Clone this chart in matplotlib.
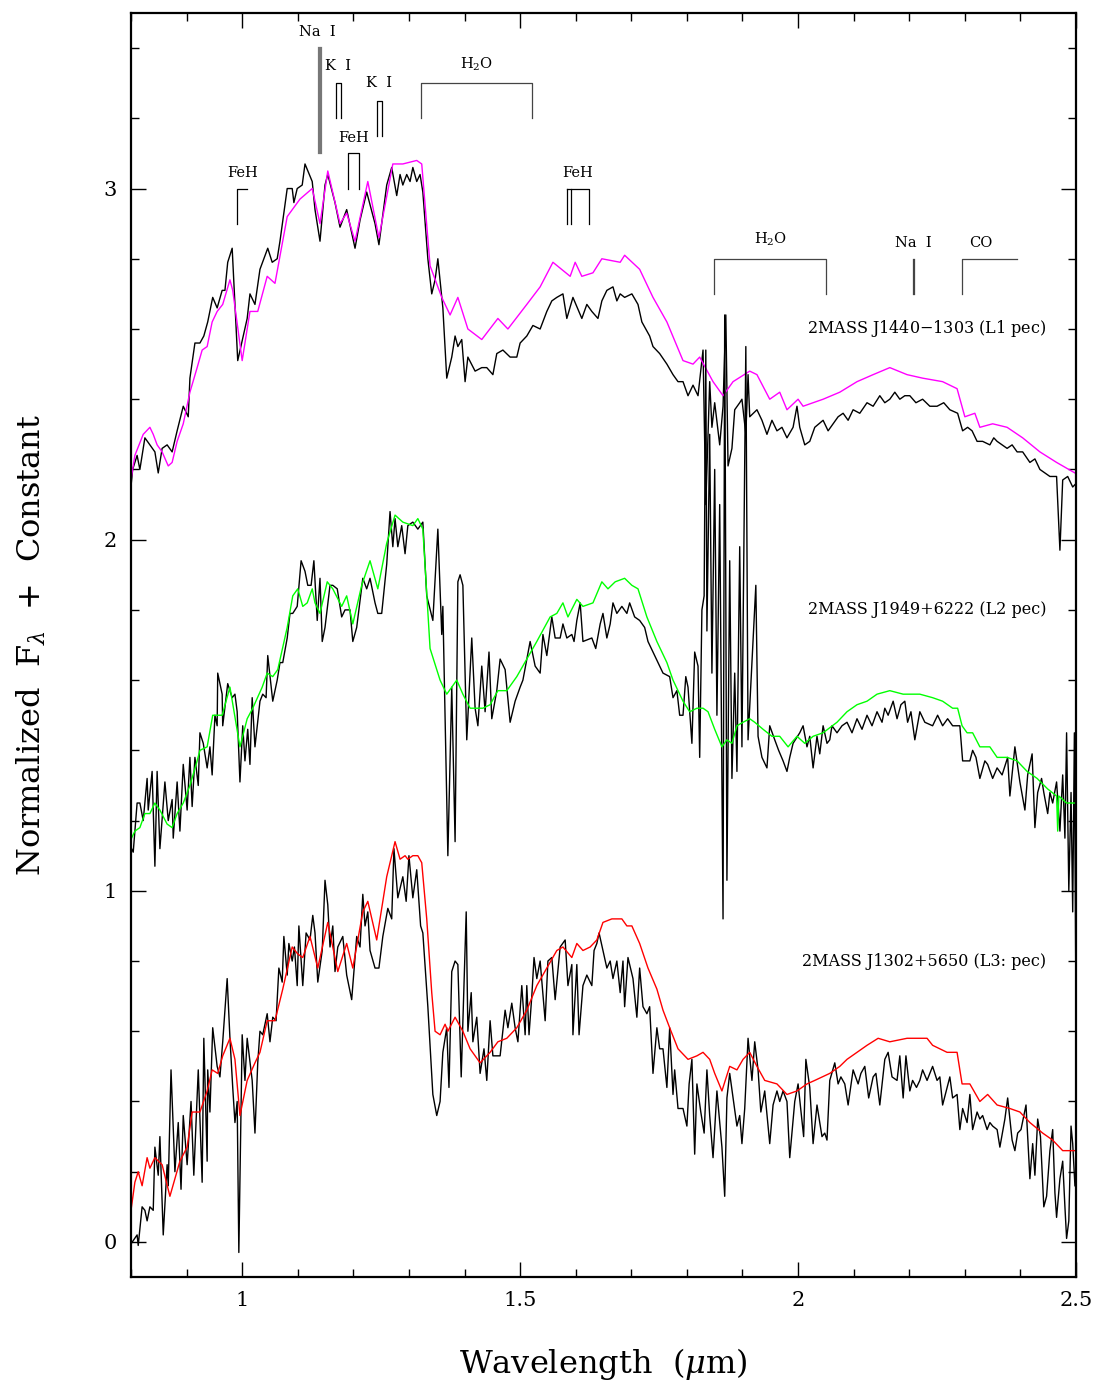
import numpy as np
import matplotlib
matplotlib.use("Agg")
import matplotlib.pyplot as plt
from matplotlib.ticker import MultipleLocator, FormatStrFormatter

plt.rcParams['font.family'] = ['DejaVu Serif']
plt.rcParams['mathtext.fontset'] = 'dejavuserif'

# ---- L1 pec (J1440-1303), offset +2 ----
l1_tmpl_wl = [0.800, 0.807, 0.822, 0.834, 0.840, 0.847, 0.856, 0.867, 0.874, 0.883, 0.894, 0.906, 0.919,
              0.928, 0.937, 0.946, 0.955, 0.965, 0.978, 0.983, 1.000, 1.014, 1.028, 1.045, 1.059, 1.081,
              1.104, 1.126, 1.140, 1.154, 1.176, 1.188, 1.203, 1.226, 1.246, 1.271, 1.289, 1.314, 1.323,
              1.338, 1.359, 1.374, 1.388, 1.406, 1.431, 1.460, 1.478, 1.512, 1.536, 1.559, 1.590, 1.599,
              1.611, 1.631, 1.647, 1.680, 1.688, 1.715, 1.739, 1.764, 1.793, 1.811, 1.823, 1.847, 1.865,
              1.883, 1.913, 1.926, 1.949, 1.967, 1.980, 2.000, 2.009, 2.045, 2.075, 2.106, 2.135, 2.165,
              2.196, 2.224, 2.260, 2.286, 2.300, 2.318, 2.327, 2.350, 2.376, 2.404, 2.435, 2.465, 2.498]
l1_tmpl_fx = [2.17, 2.24, 2.30, 2.32, 2.30, 2.27, 2.25, 2.21, 2.22, 2.28, 2.33, 2.42, 2.49,
              2.54, 2.55, 2.62, 2.65, 2.67, 2.74, 2.71, 2.51, 2.65, 2.65, 2.75, 2.73, 2.92,
              2.97, 3.00, 2.90, 3.05, 2.90, 2.93, 2.85, 3.02, 2.86, 3.07, 3.07, 3.08, 3.07,
              2.78, 2.69, 2.64, 2.69, 2.60, 2.57, 2.63, 2.60, 2.67, 2.72, 2.79, 2.75, 2.79,
              2.75, 2.76, 2.80, 2.79, 2.81, 2.77, 2.69, 2.62, 2.51, 2.50, 2.52, 2.45, 2.41,
              2.45, 2.48, 2.47, 2.40, 2.42, 2.37, 2.40, 2.38, 2.40, 2.42, 2.45, 2.47, 2.49,
              2.47, 2.46, 2.45, 2.43, 2.35, 2.36, 2.32, 2.33, 2.32, 2.29, 2.25, 2.22, 2.19]

l1_obs_wl = [0.798, 0.803, 0.811, 0.816, 0.825, 0.834, 0.843, 0.849, 0.856, 0.865, 0.874, 0.883, 0.894,
             0.903, 0.906, 0.915, 0.924, 0.931, 0.938, 0.947, 0.955, 0.964, 0.969, 0.974, 0.982, 0.992,
             1.009, 1.014, 1.023, 1.032, 1.046, 1.054, 1.063, 1.068, 1.081, 1.090, 1.093, 1.099, 1.108,
             1.113, 1.126, 1.131, 1.140, 1.149, 1.154, 1.167, 1.176, 1.188, 1.203, 1.212, 1.224, 1.239,
             1.246, 1.260, 1.269, 1.278, 1.284, 1.289, 1.296, 1.302, 1.307, 1.314, 1.320, 1.325, 1.334,
             1.341, 1.347, 1.352, 1.361, 1.368, 1.377, 1.383, 1.388, 1.395, 1.401, 1.406, 1.419, 1.431,
             1.440, 1.451, 1.458, 1.469, 1.482, 1.494, 1.500, 1.512, 1.523, 1.536, 1.548, 1.557, 1.566,
             1.577, 1.584, 1.595, 1.611, 1.620, 1.629, 1.640, 1.647, 1.656, 1.667, 1.674, 1.680, 1.688,
             1.701, 1.712, 1.719, 1.733, 1.739, 1.751, 1.764, 1.775, 1.784, 1.793, 1.802, 1.811, 1.820,
             1.829, 1.834, 1.841, 1.845, 1.850, 1.859, 1.865, 1.870, 1.874, 1.881, 1.886, 1.895, 1.899,
             1.906, 1.910, 1.913, 1.926, 1.935, 1.944, 1.953, 1.962, 1.971, 1.980, 1.991, 1.998, 2.003,
             2.012, 2.021, 2.030, 2.045, 2.054, 2.063, 2.072, 2.081, 2.090, 2.099, 2.111, 2.124, 2.135,
             2.147, 2.156, 2.165, 2.174, 2.183, 2.192, 2.201, 2.212, 2.224, 2.237, 2.250, 2.262, 2.273,
             2.287, 2.296, 2.305, 2.313, 2.322, 2.332, 2.345, 2.352, 2.358, 2.367, 2.376, 2.385, 2.394,
             2.404, 2.417, 2.426, 2.435, 2.444, 2.453, 2.465, 2.471, 2.476, 2.485, 2.494, 2.500]
l1_obs_fx = [2.12, 2.20, 2.24, 2.20, 2.29, 2.27, 2.25, 2.19, 2.26, 2.27, 2.25, 2.31, 2.38,
             2.35, 2.46, 2.56, 2.56, 2.58, 2.62, 2.69, 2.66, 2.71, 2.71, 2.79, 2.83, 2.51,
             2.63, 2.70, 2.67, 2.77, 2.83, 2.79, 2.80, 2.85, 3.00, 3.00, 2.96, 3.00, 3.01,
             3.07, 3.02, 2.94, 2.85, 3.01, 3.04, 2.96, 2.89, 2.94, 2.83, 2.91, 2.99, 2.90,
             2.84, 3.01, 3.06, 2.98, 3.04, 3.01, 3.04, 3.02, 3.06, 3.02, 3.04, 2.99, 2.80,
             2.70, 2.74, 2.80, 2.66, 2.46, 2.52, 2.58, 2.55, 2.57, 2.45, 2.52, 2.48, 2.49,
             2.49, 2.47, 2.53, 2.54, 2.52, 2.52, 2.56, 2.58, 2.61, 2.60, 2.65, 2.68, 2.69,
             2.70, 2.63, 2.69, 2.63, 2.67, 2.65, 2.63, 2.68, 2.71, 2.72, 2.68, 2.70, 2.69,
             2.70, 2.67, 2.62, 2.58, 2.55, 2.53, 2.50, 2.47, 2.45, 2.45, 2.41, 2.44, 2.41,
             2.54, 2.10, 2.45, 2.32, 2.39, 2.27, 2.38, 2.64, 2.21, 2.26, 2.37, 2.39, 2.40,
             2.30, 2.47, 2.35, 2.37, 2.34, 2.30, 2.34, 2.31, 2.32, 2.29, 2.32, 2.38, 2.32,
             2.27, 2.28, 2.32, 2.34, 2.31, 2.33, 2.35, 2.36, 2.34, 2.37, 2.36, 2.39, 2.38,
             2.41, 2.39, 2.40, 2.42, 2.40, 2.41, 2.41, 2.39, 2.40, 2.38, 2.38, 2.39, 2.37,
             2.36, 2.31, 2.32, 2.31, 2.28, 2.28, 2.27, 2.29, 2.28, 2.27, 2.26, 2.27, 2.25,
             2.25, 2.22, 2.23, 2.20, 2.19, 2.18, 2.18, 1.97, 2.17, 2.18, 2.15, 2.16]

# ---- L2 pec (J1949+6222), offset +1 ----
l2_tmpl_wl = [0.798, 0.807, 0.816, 0.825, 0.834, 0.843, 0.852, 0.865, 0.874, 0.883, 0.894, 0.906, 0.919,
              0.924, 0.937, 0.947, 0.964, 0.978, 0.996, 1.009, 1.019, 1.036, 1.045, 1.055, 1.064, 1.081,
              1.091, 1.100, 1.109, 1.117, 1.126, 1.131, 1.140, 1.153, 1.163, 1.179, 1.188, 1.199, 1.215,
              1.230, 1.244, 1.260, 1.275, 1.289, 1.307, 1.316, 1.325, 1.338, 1.356, 1.368, 1.386, 1.397,
              1.410, 1.433, 1.446, 1.460, 1.476, 1.494, 1.512, 1.530, 1.554, 1.566, 1.577, 1.586, 1.602,
              1.613, 1.631, 1.647, 1.658, 1.671, 1.688, 1.701, 1.712, 1.728, 1.746, 1.764, 1.775, 1.793,
              1.805, 1.818, 1.829, 1.838, 1.850, 1.863, 1.872, 1.881, 1.890, 1.901, 1.913, 1.922, 1.937,
              1.953, 1.967, 1.982, 1.998, 2.012, 2.027, 2.045, 2.070, 2.088, 2.106, 2.124, 2.142, 2.165,
              2.189, 2.219, 2.242, 2.260, 2.278, 2.287, 2.295, 2.304, 2.314, 2.327, 2.345, 2.358, 2.376,
              2.394, 2.412, 2.430, 2.449, 2.465, 2.467, 2.469, 2.483, 2.498]
l2_tmpl_fx = [1.14, 1.17, 1.18, 1.22, 1.22, 1.25, 1.23, 1.19, 1.18, 1.22, 1.25, 1.30, 1.37,
              1.40, 1.41, 1.50, 1.50, 1.58, 1.41, 1.49, 1.52, 1.58, 1.62, 1.61, 1.63, 1.75,
              1.84, 1.86, 1.81, 1.82, 1.86, 1.82, 1.79, 1.88, 1.86, 1.81, 1.84, 1.76, 1.87,
              1.94, 1.86, 1.99, 2.07, 2.05, 2.04, 2.06, 2.03, 1.69, 1.60, 1.56, 1.60, 1.56,
              1.52, 1.52, 1.53, 1.57, 1.57, 1.61, 1.66, 1.71, 1.78, 1.79, 1.82, 1.78, 1.83,
              1.81, 1.82, 1.88, 1.86, 1.88, 1.89, 1.87, 1.86, 1.78, 1.71, 1.65, 1.60, 1.54,
              1.51, 1.52, 1.52, 1.51, 1.46, 1.41, 1.43, 1.42, 1.47, 1.48, 1.49, 1.48, 1.46,
              1.44, 1.44, 1.41, 1.44, 1.42, 1.44, 1.45, 1.48, 1.51, 1.53, 1.54, 1.56, 1.57,
              1.56, 1.56, 1.55, 1.54, 1.52, 1.52, 1.47, 1.45, 1.45, 1.41, 1.41, 1.38, 1.38,
              1.37, 1.34, 1.32, 1.29, 1.27, 1.17, 1.27, 1.25, 1.25]

l2_obs_wl = [0.798, 0.804, 0.811, 0.816, 0.822, 0.829, 0.831, 0.838, 0.843, 0.847, 0.852, 0.861, 0.867,
             0.874, 0.876, 0.883, 0.888, 0.894, 0.901, 0.906, 0.910, 0.915, 0.921, 0.924, 0.930, 0.937,
             0.942, 0.946, 0.951, 0.955, 0.956, 0.964, 0.965, 0.974, 0.982, 0.987, 0.991, 0.996, 1.001,
             1.005, 1.010, 1.014, 1.018, 1.023, 1.032, 1.037, 1.043, 1.046, 1.055, 1.063, 1.068, 1.073,
             1.081, 1.086, 1.091, 1.099, 1.106, 1.113, 1.118, 1.124, 1.129, 1.135, 1.140, 1.144, 1.149,
             1.158, 1.163, 1.171, 1.179, 1.185, 1.194, 1.199, 1.206, 1.217, 1.224, 1.230, 1.239, 1.244,
             1.251, 1.260, 1.266, 1.271, 1.275, 1.280, 1.287, 1.293, 1.298, 1.307, 1.316, 1.325, 1.332,
             1.343, 1.352, 1.359, 1.361, 1.370, 1.377, 1.383, 1.388, 1.392, 1.397, 1.404, 1.413, 1.419,
             1.424, 1.431, 1.437, 1.444, 1.449, 1.458, 1.464, 1.473, 1.482, 1.491, 1.500, 1.505, 1.512,
             1.518, 1.527, 1.536, 1.541, 1.548, 1.557, 1.563, 1.572, 1.577, 1.584, 1.593, 1.597, 1.602,
             1.608, 1.613, 1.629, 1.636, 1.644, 1.649, 1.656, 1.662, 1.667, 1.674, 1.683, 1.692, 1.697,
             1.706, 1.715, 1.724, 1.730, 1.739, 1.748, 1.757, 1.769, 1.775, 1.782, 1.787, 1.793, 1.798,
             1.802, 1.809, 1.814, 1.820, 1.823, 1.827, 1.831, 1.834, 1.836, 1.841, 1.845, 1.850, 1.854,
             1.859, 1.865, 1.868, 1.872, 1.877, 1.881, 1.886, 1.890, 1.895, 1.899, 1.906, 1.910, 1.917,
             1.924, 1.928, 1.935, 1.944, 1.949, 1.958, 1.965, 1.973, 1.980, 1.985, 1.991, 2.003, 2.009,
             2.016, 2.021, 2.027, 2.034, 2.039, 2.045, 2.052, 2.057, 2.061, 2.070, 2.079, 2.088, 2.097,
             2.106, 2.115, 2.124, 2.133, 2.142, 2.151, 2.156, 2.162, 2.171, 2.178, 2.185, 2.192, 2.197,
             2.203, 2.210, 2.219, 2.228, 2.242, 2.251, 2.260, 2.269, 2.278, 2.291, 2.296, 2.309, 2.314,
             2.320, 2.327, 2.336, 2.341, 2.350, 2.358, 2.367, 2.377, 2.381, 2.390, 2.399, 2.408, 2.413,
             2.421, 2.426, 2.431, 2.438, 2.442, 2.449, 2.453, 2.458, 2.465, 2.471, 2.476, 2.480, 2.483,
             2.487, 2.491, 2.494, 2.497, 2.500]
l2_obs_fx = [1.13, 1.11, 1.25, 1.25, 1.20, 1.32, 1.23, 1.34, 1.07, 1.34, 1.12, 1.31, 1.20,
             1.26, 1.15, 1.31, 1.17, 1.36, 1.23, 1.38, 1.24, 1.38, 1.30, 1.45, 1.42, 1.35,
             1.41, 1.33, 1.50, 1.47, 1.62, 1.56, 1.47, 1.59, 1.55, 1.56, 1.51, 1.31, 1.47,
             1.37, 1.46, 1.36, 1.55, 1.41, 1.54, 1.56, 1.55, 1.67, 1.54, 1.60, 1.65, 1.65,
             1.72, 1.79, 1.79, 1.81, 1.94, 1.91, 1.87, 1.87, 1.94, 1.77, 1.89, 1.71, 1.75,
             1.87, 1.87, 1.86, 1.78, 1.80, 1.80, 1.71, 1.75, 1.89, 1.86, 1.89, 1.82, 1.79,
             1.79, 1.93, 2.08, 1.98, 2.06, 1.98, 2.04, 1.96, 2.04, 2.05, 2.03, 2.05, 1.84,
             1.77, 2.03, 1.73, 1.81, 1.10, 1.58, 1.14, 1.88, 1.90, 1.87, 1.43, 1.72, 1.52,
             1.47, 1.64, 1.51, 1.68, 1.49, 1.57, 1.66, 1.63, 1.48, 1.54, 1.58, 1.60, 1.66,
             1.71, 1.64, 1.62, 1.73, 1.67, 1.78, 1.72, 1.72, 1.76, 1.72, 1.73, 1.71, 1.77,
             1.82, 1.71, 1.72, 1.69, 1.76, 1.79, 1.72, 1.76, 1.82, 1.79, 1.81, 1.79, 1.82,
             1.78, 1.77, 1.75, 1.71, 1.68, 1.65, 1.62, 1.61, 1.55, 1.57, 1.50, 1.50, 1.61,
             1.58, 1.42, 1.68, 1.64, 1.38, 1.80, 1.84, 2.54, 1.74, 2.30, 1.62, 2.20, 1.50,
             2.10, 0.92, 2.64, 1.03, 1.94, 1.32, 1.62, 1.34, 1.98, 1.41, 2.55, 1.43, 1.65,
             1.87, 1.44, 1.38, 1.35, 1.47, 1.43, 1.40, 1.37, 1.34, 1.38, 1.42, 1.45, 1.47,
             1.41, 1.44, 1.35, 1.44, 1.39, 1.47, 1.42, 1.43, 1.47, 1.45, 1.47, 1.48, 1.45,
             1.49, 1.46, 1.50, 1.47, 1.51, 1.48, 1.52, 1.50, 1.54, 1.49, 1.53, 1.54, 1.48,
             1.51, 1.43, 1.51, 1.48, 1.47, 1.50, 1.47, 1.49, 1.47, 1.47, 1.37, 1.37, 1.40,
             1.38, 1.32, 1.37, 1.36, 1.32, 1.35, 1.33, 1.38, 1.27, 1.41, 1.31, 1.23, 1.33,
             1.39, 1.18, 1.28, 1.32, 1.28, 1.22, 1.28, 1.25, 1.31, 1.17, 1.33, 1.15, 1.45,
             1.00, 1.28, 0.94, 1.45, 0.63]

# ---- L3: pec (J1302+5650), offset 0 ----
l3_tmpl_wl = [0.800, 0.807, 0.813, 0.820, 0.829, 0.834, 0.843, 0.856, 0.870, 0.879, 0.888, 0.901, 0.910,
              0.924, 0.937, 0.946, 0.956, 0.965, 0.978, 0.987, 0.996, 1.009, 1.023, 1.032, 1.045, 1.059,
              1.073, 1.090, 1.100, 1.109, 1.122, 1.136, 1.154, 1.172, 1.188, 1.199, 1.217, 1.226, 1.242,
              1.260, 1.275, 1.284, 1.293, 1.298, 1.307, 1.316, 1.323, 1.332, 1.341, 1.347, 1.356, 1.365,
              1.370, 1.383, 1.397, 1.410, 1.428, 1.446, 1.460, 1.476, 1.494, 1.512, 1.530, 1.548, 1.566,
              1.577, 1.593, 1.602, 1.613, 1.626, 1.638, 1.649, 1.665, 1.683, 1.692, 1.701, 1.715, 1.730,
              1.746, 1.757, 1.769, 1.784, 1.802, 1.818, 1.829, 1.841, 1.850, 1.863, 1.877, 1.890, 1.901,
              1.913, 1.926, 1.940, 1.962, 1.980, 1.998, 2.016, 2.030, 2.057, 2.075, 2.088, 2.106, 2.124,
              2.144, 2.165, 2.196, 2.232, 2.242, 2.268, 2.286, 2.295, 2.309, 2.327, 2.341, 2.358, 2.381,
              2.399, 2.417, 2.440, 2.458, 2.476, 2.498]
l3_tmpl_fx = [0.09, 0.17, 0.20, 0.16, 0.24, 0.21, 0.24, 0.22, 0.13, 0.18, 0.23, 0.27, 0.37,
              0.37, 0.43, 0.49, 0.48, 0.53, 0.58, 0.52, 0.36, 0.46, 0.51, 0.54, 0.63, 0.63,
              0.72, 0.84, 0.82, 0.81, 0.87, 0.78, 0.91, 0.77, 0.85, 0.78, 0.94, 0.97, 0.86,
              1.04, 1.14, 1.09, 1.10, 1.09, 1.10, 1.10, 1.08, 0.92, 0.71, 0.60, 0.59, 0.62,
              0.60, 0.64, 0.60, 0.55, 0.51, 0.54, 0.57, 0.58, 0.61, 0.66, 0.73, 0.78, 0.83,
              0.84, 0.81, 0.85, 0.83, 0.84, 0.86, 0.91, 0.92, 0.92, 0.90, 0.90, 0.85, 0.78,
              0.72, 0.66, 0.61, 0.55, 0.52, 0.53, 0.54, 0.52, 0.48, 0.43, 0.50, 0.49, 0.52,
              0.54, 0.50, 0.46, 0.45, 0.42, 0.43, 0.45, 0.46, 0.48, 0.50, 0.52, 0.54, 0.56,
              0.58, 0.57, 0.58, 0.58, 0.56, 0.54, 0.54, 0.45, 0.45, 0.40, 0.42, 0.39, 0.38,
              0.37, 0.34, 0.31, 0.29, 0.26, 0.26]

l3_obs_wl = [0.798, 0.811, 0.813, 0.820, 0.825, 0.829, 0.834, 0.840, 0.843, 0.849, 0.852, 0.858, 0.865,
             0.867, 0.872, 0.879, 0.885, 0.890, 0.894, 0.901, 0.908, 0.913, 0.921, 0.928, 0.931, 0.937,
             0.938, 0.942, 0.947, 0.955, 0.960, 0.965, 0.973, 0.978, 0.983, 0.987, 0.991, 0.994, 1.000,
             1.005, 1.009, 1.018, 1.023, 1.028, 1.032, 1.037, 1.045, 1.050, 1.055, 1.061, 1.066, 1.072,
             1.075, 1.081, 1.084, 1.090, 1.094, 1.099, 1.102, 1.109, 1.115, 1.122, 1.127, 1.131, 1.136,
             1.144, 1.149, 1.154, 1.158, 1.163, 1.167, 1.172, 1.181, 1.188, 1.197, 1.206, 1.212, 1.217,
             1.221, 1.226, 1.230, 1.239, 1.246, 1.253, 1.262, 1.269, 1.273, 1.280, 1.289, 1.295, 1.300,
             1.307, 1.314, 1.321, 1.325, 1.334, 1.343, 1.350, 1.356, 1.361, 1.368, 1.372, 1.377, 1.383,
             1.388, 1.394, 1.403, 1.406, 1.412, 1.415, 1.422, 1.428, 1.435, 1.440, 1.446, 1.451, 1.464,
             1.473, 1.478, 1.485, 1.491, 1.496, 1.503, 1.509, 1.512, 1.516, 1.521, 1.525, 1.530, 1.536,
             1.545, 1.550, 1.557, 1.563, 1.572, 1.581, 1.586, 1.593, 1.595, 1.602, 1.606, 1.613, 1.620,
             1.629, 1.633, 1.638, 1.642, 1.649, 1.656, 1.662, 1.667, 1.674, 1.680, 1.685, 1.688, 1.694,
             1.703, 1.710, 1.715, 1.721, 1.728, 1.733, 1.739, 1.746, 1.751, 1.757, 1.764, 1.769, 1.775,
             1.778, 1.784, 1.793, 1.800, 1.804, 1.809, 1.814, 1.818, 1.825, 1.831, 1.836, 1.841, 1.847,
             1.854, 1.863, 1.868, 1.872, 1.877, 1.883, 1.890, 1.895, 1.899, 1.904, 1.910, 1.917, 1.922,
             1.928, 1.933, 1.940, 1.949, 1.955, 1.962, 1.967, 1.973, 1.980, 1.985, 1.994, 2.000, 2.010,
             2.014, 2.021, 2.027, 2.034, 2.043, 2.048, 2.052, 2.057, 2.066, 2.072, 2.077, 2.084, 2.090,
             2.099, 2.108, 2.113, 2.120, 2.127, 2.135, 2.140, 2.147, 2.156, 2.162, 2.169, 2.178, 2.183,
             2.189, 2.194, 2.201, 2.206, 2.213, 2.219, 2.224, 2.232, 2.237, 2.242, 2.250, 2.255, 2.260,
             2.268, 2.273, 2.278, 2.286, 2.291, 2.296, 2.304, 2.309, 2.314, 2.322, 2.327, 2.332, 2.340,
             2.345, 2.350, 2.358, 2.363, 2.372, 2.377, 2.385, 2.390, 2.395, 2.401, 2.410, 2.413, 2.417,
             2.422, 2.426, 2.431, 2.436, 2.442, 2.447, 2.453, 2.458, 2.462, 2.465, 2.471, 2.476, 2.480,
             2.483, 2.487, 2.491, 2.494, 2.498]
l3_obs_fx = [-0.01, 0.02, -0.01, 0.10, 0.09, 0.06, 0.10, 0.09, 0.27, 0.19, 0.30, 0.02, 0.22,
             0.16, 0.49, 0.20, 0.34, 0.15, 0.36, 0.22, 0.40, 0.19, 0.49, 0.17, 0.58, 0.23,
             0.49, 0.37, 0.61, 0.50, 0.47, 0.57, 0.75, 0.58, 0.44, 0.34, 0.40, -0.03, 0.59,
             0.46, 0.58, 0.46, 0.31, 0.51, 0.60, 0.59, 0.65, 0.57, 0.64, 0.63, 0.78, 0.74,
             0.87, 0.76, 0.85, 0.80, 0.84, 0.73, 0.90, 0.73, 0.88, 0.86, 0.93, 0.88, 0.74,
             0.83, 1.03, 0.96, 0.84, 0.90, 0.77, 0.84, 0.87, 0.76, 0.69, 0.87, 0.84, 0.99,
             0.90, 0.94, 0.83, 0.78, 0.78, 0.87, 0.95, 0.92, 1.12, 0.98, 1.04, 0.97, 1.10,
             0.98, 1.06, 0.90, 0.88, 0.67, 0.42, 0.36, 0.40, 0.54, 0.61, 0.44, 0.77, 0.80,
             0.79, 0.47, 0.94, 0.60, 0.71, 0.57, 0.64, 0.48, 0.55, 0.46, 0.63, 0.53, 0.53,
             0.66, 0.61, 0.68, 0.61, 0.57, 0.73, 0.59, 0.73, 0.59, 0.70, 0.81, 0.75, 0.80,
             0.63, 0.80, 0.81, 0.69, 0.84, 0.86, 0.73, 0.79, 0.59, 0.79, 0.59, 0.73, 0.76,
             0.73, 0.83, 0.85, 0.88, 0.83, 0.78, 0.80, 0.75, 0.80, 0.71, 0.80, 0.67, 0.81,
             0.75, 0.64, 0.78, 0.67, 0.65, 0.67, 0.48, 0.61, 0.55, 0.55, 0.44, 0.61, 0.42,
             0.49, 0.38, 0.38, 0.33, 0.45, 0.52, 0.25, 0.45, 0.37, 0.31, 0.49, 0.36, 0.24,
             0.43, 0.27, 0.13, 0.41, 0.48, 0.41, 0.33, 0.36, 0.28, 0.38, 0.58, 0.46, 0.57,
             0.49, 0.37, 0.43, 0.28, 0.39, 0.43, 0.40, 0.43, 0.40, 0.24, 0.40, 0.45, 0.30,
             0.52, 0.44, 0.28, 0.39, 0.30, 0.31, 0.29, 0.46, 0.51, 0.45, 0.47, 0.45, 0.39,
             0.49, 0.45, 0.48, 0.50, 0.41, 0.47, 0.48, 0.39, 0.52, 0.54, 0.47, 0.46, 0.53,
             0.41, 0.53, 0.43, 0.46, 0.44, 0.46, 0.49, 0.46, 0.48, 0.50, 0.46, 0.47, 0.39,
             0.44, 0.47, 0.41, 0.42, 0.32, 0.38, 0.34, 0.42, 0.32, 0.37, 0.35, 0.36, 0.32,
             0.34, 0.33, 0.32, 0.27, 0.35, 0.41, 0.29, 0.26, 0.31, 0.32, 0.39, 0.30, 0.18,
             0.28, 0.19, 0.35, 0.30, 0.10, 0.13, 0.26, 0.32, 0.14, 0.07, 0.18, 0.23, 0.10,
             0.01, 0.06, 0.33, 0.28, 0.16]

names = ["2MASS J1440$-$1303 (L1 pec)", "2MASS J1949+6222 (L2 pec)", "2MASS J1302+5650 (L3: pec)"]
name_y = [2.60, 1.80, 0.80]

# feature wavelengths
feh1_wl = [0.991, 1.008]
nai1_wl = [1.138, 1.141]
ki1_wl = [1.169, 1.177]
feh2_wl = [1.190, 1.210]
ki2_wl = [1.243, 1.252]
h2o1_wl = [1.322, 1.521]
feh3_wl = [1.584, 1.591, 1.624]
h2o2_wl = [1.849, 2.050]
nai2_wl = [2.206, 2.209]
co_wl = [2.295, 2.393]

fig = plt.figure(figsize=(10.98, 13.8), dpi=100)
ax = fig.add_axes([0.1193, 0.0746, 0.8607, 0.916])

ax.plot(l1_obs_wl, l1_obs_fx, color='black', lw=1.0)
ax.plot(l1_tmpl_wl, l1_tmpl_fx, color='#ff00ff', lw=1.0)
ax.plot(l2_obs_wl, l2_obs_fx, color='black', lw=1.0)
ax.plot(l2_tmpl_wl, l2_tmpl_fx, color='#00ff00', lw=1.0)
ax.plot(l3_obs_wl, l3_obs_fx, color='black', lw=1.0)
ax.plot(l3_tmpl_wl, l3_tmpl_fx, color='#ff0000', lw=1.0)

for nm, yy in zip(names, name_y):
    ax.text(2.447, yy, nm, ha='right', va='center', fontsize=11.5)

lc = '#444444'
fs = 10.5
# FeH 0.99
ax.plot([feh1_wl[0], feh1_wl[0], feh1_wl[1]], [2.90, 3.00, 3.00], color='k', lw=0.9)
ax.text(1.0, 3.045, 'FeH', ha='center', va='center', fontsize=fs)
# Na I 1.14 (thick)
for w in nai1_wl:
    ax.plot([w, w], [3.10, 3.40], color='#777777', lw=1.6)
ax.text(1.136, 3.445, 'Na  I', ha='center', va='center', fontsize=fs)
# K I 1.17
ax.plot([ki1_wl[0], ki1_wl[0], ki1_wl[1], ki1_wl[1]], [3.20, 3.30, 3.30, 3.20], color='k', lw=0.9)
ax.text(1.172, 3.35, 'K  I', ha='center', va='center', fontsize=fs)
# FeH 1.20
ax.plot([feh2_wl[0], feh2_wl[0], feh2_wl[1], feh2_wl[1]], [3.00, 3.10, 3.10, 3.00], color='k', lw=0.9)
ax.text(1.200, 3.145, 'FeH', ha='center', va='center', fontsize=fs)
# K I 1.25
ax.plot([ki2_wl[0], ki2_wl[0], ki2_wl[1], ki2_wl[1]], [3.15, 3.25, 3.25, 3.15], color='k', lw=0.9)
ax.text(1.247, 3.30, 'K  I', ha='center', va='center', fontsize=fs)
# H2O 1.4
ax.plot([h2o1_wl[0], h2o1_wl[0], h2o1_wl[1], h2o1_wl[1]], [3.20, 3.30, 3.30, 3.20], color=lc, lw=0.9)
ax.text(1.421, 3.355, 'H$_2$O', ha='center', va='center', fontsize=fs)
# FeH 1.6
ax.plot([feh3_wl[0], feh3_wl[0]], [2.90, 3.00], color='k', lw=0.9)
ax.plot([feh3_wl[1], feh3_wl[1], feh3_wl[2], feh3_wl[2]], [2.90, 3.00, 3.00, 2.90], color='k', lw=0.9)
ax.plot([feh3_wl[0], feh3_wl[1]], [3.00, 3.00], color='k', lw=0.9)
ax.text(1.604, 3.045, 'FeH', ha='center', va='center', fontsize=fs)
# H2O 1.9
ax.plot([h2o2_wl[0], h2o2_wl[0], h2o2_wl[1], h2o2_wl[1]], [2.70, 2.80, 2.80, 2.70], color=lc, lw=0.9)
ax.text(1.950, 2.855, 'H$_2$O', ha='center', va='center', fontsize=fs)
# Na I 2.2
for w in nai2_wl:
    ax.plot([w, w], [2.70, 2.80], color=lc, lw=0.9)
ax.text(2.207, 2.845, 'Na  I', ha='center', va='center', fontsize=fs)
# CO
ax.plot([co_wl[0], co_wl[0], co_wl[1]], [2.70, 2.80, 2.80], color=lc, lw=0.9)
ax.text(2.328, 2.845, 'CO', ha='center', va='center', fontsize=fs)

ax.set_xlim(0.8, 2.5)
ax.set_ylim(-0.1, 3.5)
ax.xaxis.set_major_locator(MultipleLocator(0.5))
ax.xaxis.set_minor_locator(MultipleLocator(0.1))
ax.yaxis.set_major_locator(MultipleLocator(1))
ax.yaxis.set_minor_locator(MultipleLocator(0.2))
ax.xaxis.set_major_formatter(FormatStrFormatter('%g'))
ax.yaxis.set_major_formatter(FormatStrFormatter('%g'))
ax.tick_params(which='both', direction='in', top=True, right=True, width=1.0, labelsize=15, pad=10)
ax.tick_params(which='major', length=11)
ax.tick_params(which='minor', length=6)
for s in ax.spines.values():
    s.set_linewidth(1.6)

ax.set_xlabel(r'Wavelength  ($\mu$m)', fontsize=23, labelpad=26)
ax.set_ylabel(r'Normalized  F$_\lambda$  +  Constant', fontsize=23, labelpad=40)

fig.savefig('out.png', dpi=100)
